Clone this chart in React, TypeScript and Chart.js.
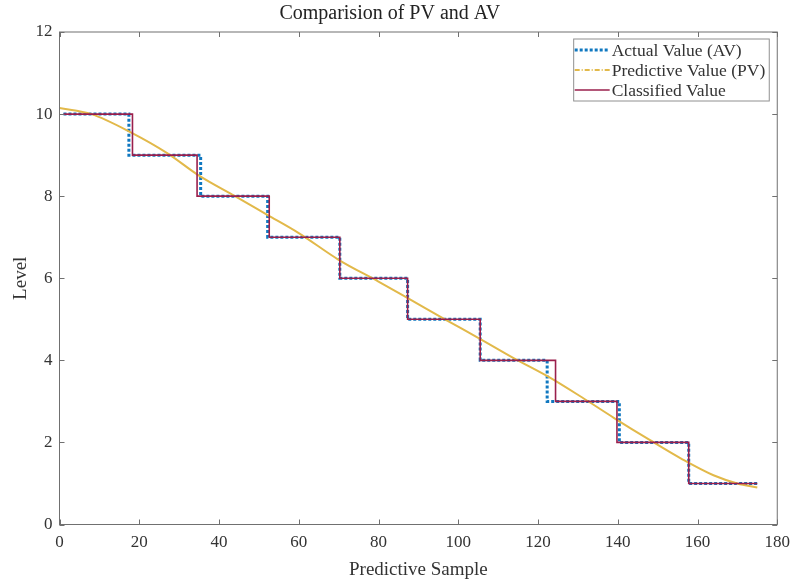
import React, { useEffect, useRef } from "react";
import { Chart, registerables } from "chart.js";

Chart.register(...registerables);

// ---- data ----
const TITLE = "Comparision of PV and AV";
const X_LABEL = "Predictive Sample";
const Y_LABEL = "Level";
const SERIES_LABELS = ["Actual Value (AV)", "Predictive Value (PV)", "Classified Value"];

const X_MIN = 0;
const X_MAX = 180;
const X_STEP = 20;
const Y_MIN = 0;
const Y_MAX = 12;
const Y_STEP = 2;

// level held from each switch sample until the next one
const LEVELS = [10, 9, 8, 7, 6, 5, 4, 3, 2, 1, 1];
const AV_SWITCH = [1, 17.4, 35.4, 52.2, 70.3, 87.3, 105.5, 122.3, 140.4, 157.8, 175];
const CV_SWITCH = [1, 18.3, 34.5, 52.6, 70.3, 87.3, 105.5, 124.4, 139.8, 157.8, 175];

const PV_X = [0, 8, 18, 27, 35, 44, 52, 60, 70, 80, 88, 97, 105, 114, 123, 131, 139, 148, 156, 164, 170, 175];
const PV_Y = [10.15, 10.0, 9.55, 9.05, 8.5, 8.0, 7.55, 7.1, 6.45, 5.92, 5.48, 4.98, 4.55, 4.05, 3.58, 3.1, 2.6, 2.06, 1.6, 1.2, 1.0, 0.9];

// ---- styles ----
const FONT = "'Liberation Serif', 'Times New Roman', serif";
const AV_COLOR = "#1078c0";
const PV_COLOR = "#e2b94a";
const CV_COLOR = "#9a1f4c";
const AXIS_COLOR = "#707070";
const TEXT_COLOR = "#333333";

const framePlugin = {
  id: "frameAndLegend",
  afterDraw(chart: any) {
    const { ctx, chartArea } = chart;
    const { left, right, top, bottom } = chartArea;
    const xs = chart.scales.x;
    const ys = chart.scales.y;
    ctx.save();
    ctx.strokeStyle = AXIS_COLOR;
    ctx.lineWidth = 1;
    ctx.strokeRect(left, top, right - left, bottom - top);
    const tl = 5;
    ctx.beginPath();
    xs.ticks.forEach((t: any) => {
      const px = Math.round(xs.getPixelForValue(t.value)) + 0.5;
      ctx.moveTo(px, bottom);
      ctx.lineTo(px, bottom - tl);
      ctx.moveTo(px, top);
      ctx.lineTo(px, top + tl);
    });
    ys.ticks.forEach((t: any) => {
      const py = Math.round(ys.getPixelForValue(t.value)) + 0.5;
      ctx.moveTo(left, py);
      ctx.lineTo(left + tl, py);
      ctx.moveTo(right, py);
      ctx.lineTo(right - tl, py);
    });
    ctx.stroke();

    // legend inside plot, top-right
    ctx.font = `17.5px ${FONT}`;
    const sampleLen = 35;
    const rowH = 20;
    const texts = chart.data.datasets.map((d: any) => d.label);
    const textW = Math.max(...texts.map((s: string) => ctx.measureText(s).width));
    const boxW = sampleLen + 3 + textW + 4;
    const boxH = rowH * texts.length + 2;
    const bx = right - 8 - boxW;
    const by = top + 7;
    ctx.fillStyle = "#ffffff";
    ctx.fillRect(bx, by, boxW, boxH);
    ctx.strokeStyle = "#909090";
    ctx.strokeRect(bx, by, boxW, boxH);
    chart.data.datasets.forEach((d: any, i: number) => {
      const cy = by + 11 + i * rowH;
      ctx.beginPath();
      ctx.strokeStyle = d.borderColor;
      ctx.lineWidth = d.borderWidth;
      ctx.setLineDash(d.legendDash || []);
      ctx.moveTo(bx + 1, cy);
      ctx.lineTo(bx + 1 + sampleLen, cy);
      ctx.stroke();
      ctx.setLineDash([]);
      ctx.fillStyle = TEXT_COLOR;
      ctx.textBaseline = "middle";
      ctx.textAlign = "left";
      ctx.fillText(d.label, bx + sampleLen + 3, cy + 1);
    });
    ctx.restore();
  },
};

export default function App() {
  const ref = useRef<HTMLCanvasElement | null>(null);
  useEffect(() => {
    document.body.style.margin = "0";
    const canvas = ref.current;
    if (!canvas) return;
    const avData = AV_SWITCH.map((x, i) => ({ x, y: LEVELS[i] }));
    const cvData = CV_SWITCH.map((x, i) => ({ x, y: LEVELS[i] }));
    const pvData = PV_X.map((x, i) => ({ x, y: PV_Y[i] }));
    const chart = new Chart(canvas, {
      type: "line",
      data: {
        datasets: [
          {
            label: SERIES_LABELS[0],
            data: avData,
            borderColor: AV_COLOR,
            borderWidth: 3,
            borderDash: [3, 2],
            stepped: "before",
            pointRadius: 0,
            order: 3,
            legendDash: [3, 2],
          } as any,
          {
            label: SERIES_LABELS[1],
            data: pvData,
            borderColor: PV_COLOR,
            borderWidth: 2,
            tension: 0.4,
            cubicInterpolationMode: "monotone",
            pointRadius: 0,
            order: 2,
            legendDash: [5, 2, 1, 2],
          } as any,
          {
            label: SERIES_LABELS[2],
            data: cvData,
            borderColor: CV_COLOR,
            borderWidth: 1.6,
            stepped: "before",
            pointRadius: 0,
            order: 1,
            legendDash: [],
          } as any,
        ],
      },
      options: {
        responsive: false,
        animation: false,
        layout: { padding: { left: 0, right: 18.5, top: 0, bottom: 0 } },
        plugins: {
          legend: { display: false },
          tooltip: { enabled: false },
          title: {
            display: true,
            text: TITLE,
            color: "#222222",
            font: { family: FONT, size: 20, weight: "normal" },
            padding: { top: 2, bottom: 6 },
          },
        },
        scales: {
          x: {
            type: "linear",
            min: X_MIN,
            max: X_MAX,
            grid: { display: false, drawTicks: false },
            border: { display: false },
            ticks: {
              stepSize: X_STEP,
              color: TEXT_COLOR,
              padding: 8,
              maxRotation: 0,
              font: { family: FONT, size: 17 },
            },
            title: {
              display: true,
              text: X_LABEL,
              color: TEXT_COLOR,
              font: { family: FONT, size: 19 },
              padding: { top: 6 },
            },
            afterFit: (s: any) => {
              s.height = 60.5;
            },
          },
          y: {
            type: "linear",
            min: Y_MIN,
            max: Y_MAX,
            grid: { display: false, drawTicks: false },
            border: { display: false },
            ticks: {
              stepSize: Y_STEP,
              color: TEXT_COLOR,
              padding: 7,
              font: { family: FONT, size: 17 },
            },
            title: {
              display: true,
              text: Y_LABEL,
              color: TEXT_COLOR,
              font: { family: FONT, size: 19 },
              padding: { top: 10 },
            },
            afterFit: (s: any) => {
              s.width = 59.5;
            },
          },
        },
      },
      plugins: [framePlugin],
    });
    return () => chart.destroy();
  }, []);
  return (
    <div style={{ width: 798, height: 585 }}>
      <canvas ref={ref} width={798} height={585} style={{ display: "block" }} />
    </div>
  );
}
